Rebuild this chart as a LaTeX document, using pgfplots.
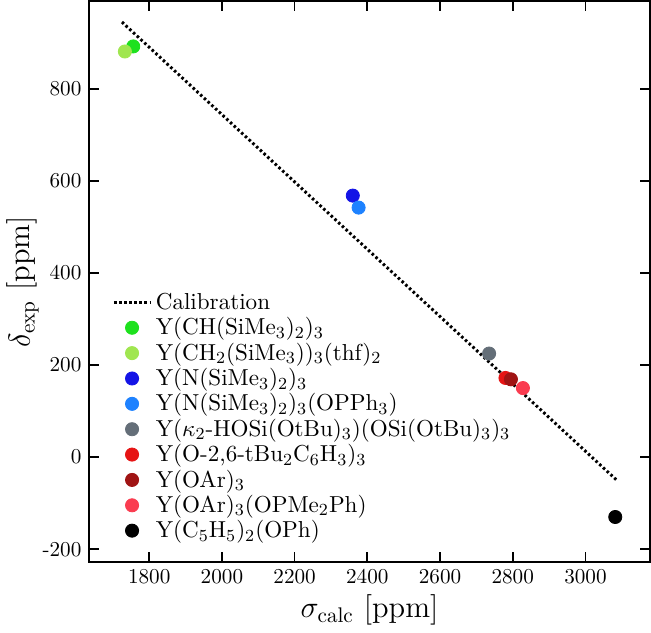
\documentclass[border=0pt]{standalone}
\usepackage{pgfplots}
\pgfplotsset{compat=1.18}
\definecolor{cGreen}{RGB}{30,225,30}
\definecolor{cLgreen}{RGB}{160,230,80}
\definecolor{cBlue}{RGB}{20,20,230}
\definecolor{cLblue}{RGB}{30,130,255}
\definecolor{cGrey}{RGB}{100,110,120}
\definecolor{cRed}{RGB}{230,20,20}
\definecolor{cDred}{RGB}{160,20,20}
\definecolor{cPink}{RGB}{250,60,80}
\begin{document}
\begin{tikzpicture}
  \begin{axis}[
    scale only axis,
    width=265pt, height=265pt,
    xmin=1634, xmax=3178,
    ymin=-228, ymax=991,
    xtick={1800,2000,...,3000},
    xticklabels={1800,2000,2200,2400,2600,2800,3000},
    ytick={-200,0,...,800},
    yticklabels={-200,0,200,400,600,800},
    tick align=inside,
    axis line style={line width=0.8pt},
    every tick/.style={line width=0.8pt, black},
    major tick length=5pt,
    label style={font=\fontsize{14.4}{16}\selectfont},
    xlabel={$\sigma_{\mathrm{calc}}$ [ppm]},
    ylabel={$\delta_{\mathrm{exp}}$ [ppm]},
    ylabel shift=-5pt,
    xlabel shift=-2pt,
    legend style={draw=none, fill=none, at={(rel axis cs:0.03,0.495)}, anchor=north west,
      row sep=-1.7pt, font=\fontsize{10.9}{13}\selectfont},
    legend cell align=left,
    every axis plot/.append style={only marks, mark=*, mark size=3.1pt},
  ]
    \addplot[no marks, black, line width=1.4pt, dash pattern={on 1.2pt off 1.2pt}, sharp plot]
      coordinates {(1725,945) (3086,-50)};
    \addlegendentry{Calibration}
    \addplot[cGreen, mark options={fill=cGreen, draw=cGreen}] coordinates {(1756,892)};
    \addlegendentry{Y(CH(SiMe$_3$)$_2$)$_3$}
    \addplot[cLgreen, mark options={fill=cLgreen, draw=cLgreen}] coordinates {(1733,881)};
    \addlegendentry{Y(CH$_2$(SiMe$_3$))$_3$(thf)$_2$}
    \addplot[cBlue, mark options={fill=cBlue, draw=cBlue}] coordinates {(2360,568)};
    \addlegendentry{Y(N(SiMe$_3$)$_2$)$_3$}
    \addplot[cLblue, mark options={fill=cLblue, draw=cLblue}] coordinates {(2376,542)};
    \addlegendentry{Y(N(SiMe$_3$)$_2$)$_3$(OPPh$_3$)}
    \addplot[cGrey, mark options={fill=cGrey, draw=cGrey}] coordinates {(2735,225)};
    \addlegendentry{Y($\kappa_2$-HOSi(OtBu)$_3$)(OSi(OtBu)$_3$)$_3$}
    \addplot[cRed, mark options={fill=cRed, draw=cRed}] coordinates {(2780,172)};
    \addlegendentry{Y(O-2,6-tBu$_2$C$_6$H$_3$)$_3$}
    \addplot[cDred, mark options={fill=cDred, draw=cDred}] coordinates {(2795,169)};
    \addlegendentry{Y(OAr)$_3$}
    \addplot[cPink, mark options={fill=cPink, draw=cPink}] coordinates {(2828,150)};
    \addlegendentry{Y(OAr)$_3$(OPMe$_2$Ph)}
    \addplot[black, mark options={fill=black, draw=black}] coordinates {(3082,-130)};
    \addlegendentry{Y(C$_5$H$_5$)$_2$(OPh)}
  \end{axis}
\end{tikzpicture}
\end{document}
